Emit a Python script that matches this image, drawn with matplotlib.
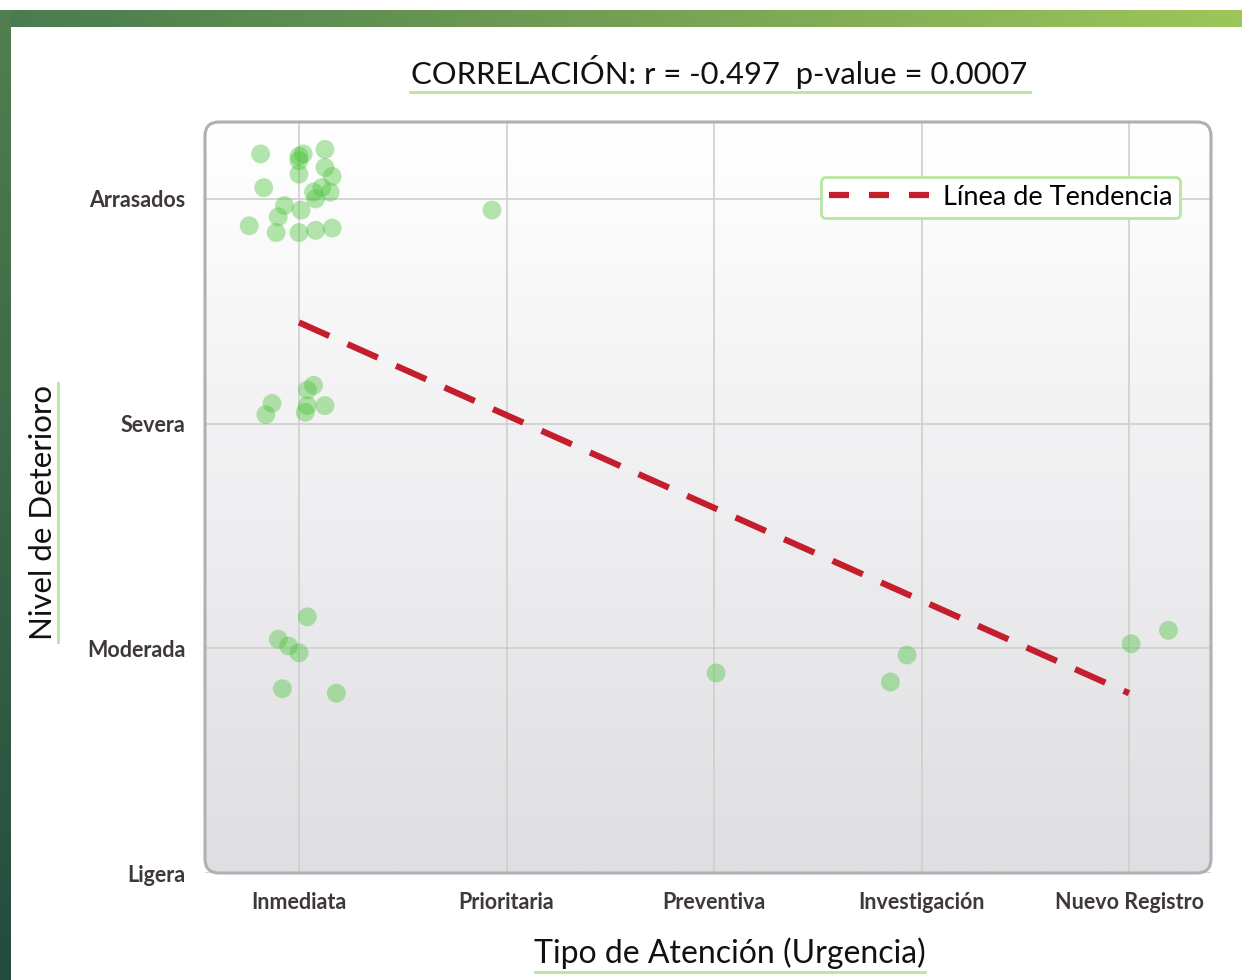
import numpy as np
import matplotlib
matplotlib.use("Agg")
import matplotlib.pyplot as plt
from matplotlib.patches import FancyBboxPatch
from matplotlib.lines import Line2D

# --- data ---
x_categories = ["Inmediata", "Prioritaria", "Preventiva", "Investigación", "Nuevo Registro"]
y_levels = ["Ligera", "Moderada", "Severa", "Arrasados"]

# jittered points: x (1..5 = category), y (1..4 = level)
pts_x = [0.815, 1.00, 1.02, 1.00, 1.125, 1.00, 1.125, 1.16, 0.83, 1.07, 1.11,
         1.15, 1.08, 0.93, 0.90, 1.01, 0.76, 0.89, 1.00, 1.08, 1.16,
         1.93,
         0.87, 0.84, 1.07, 1.04, 1.04, 1.03, 1.125,
         1.04, 0.90, 0.95, 1.00, 0.92, 1.18,
         3.01,
         3.93, 3.85,
         5.01, 5.19]
pts_y = [4.20, 4.19, 4.20, 4.17, 4.22, 4.11, 4.14, 4.10, 4.05, 4.03, 4.05,
         4.03, 4.00, 3.97, 3.92, 3.95, 3.88, 3.85, 3.85, 3.86, 3.87,
         3.95,
         3.09, 3.04, 3.17, 3.15, 3.08, 3.05, 3.08,
         2.14, 2.04, 2.01, 1.98, 1.82, 1.80,
         1.89,
         1.97, 1.85,
         2.02, 2.08]

trend_x = [1.0, 5.0]
trend_y = [3.45, 1.80]

title = "CORRELACIÓN: r = -0.497  p-value = 0.0007"

W, H = 1242, 980
fig = plt.figure(figsize=(W / 100, H / 100), dpi=100)
fig.patch.set_facecolor("white")

def fx(px):
    return px / W

def fy(py):
    return 1 - py / H

# top gradient bar
bar = fig.add_axes([0, fy(27), 1, 17 / H])
grad = np.linspace(0, 1, 256).reshape(1, -1)
cmap_bar = matplotlib.colors.LinearSegmentedColormap.from_list("bar", ["#4a7a4f", "#9dc65a"])
bar.imshow(grad, aspect="auto", cmap=cmap_bar, extent=[0, 1, 0, 1])
bar.axis("off")

# left gradient strip
strip = fig.add_axes([0, 0, 11 / W, fy(10)])
cmap_strip = matplotlib.colors.LinearSegmentedColormap.from_list("strip", ["#234c3f", "#537e4f"])
strip.imshow(np.linspace(0, 1, 256).reshape(-1, 1), aspect="auto", cmap=cmap_strip,
             origin="lower", extent=[0, 1, 0, 1])
strip.axis("off")

# main axes
ax = fig.add_axes([fx(205), fy(873), fx(1211) - fx(205), fy(122) - fy(873)])
ax.set_xlim(0.547, 5.395)
ax.set_ylim(1.0, 4.342)

frame = FancyBboxPatch((0, 0), 1, 1, boxstyle="round,pad=0,rounding_size=0.014",
                       mutation_aspect=1006 / 751, transform=ax.transAxes,
                       facecolor="none", edgecolor="#b0b0b0", lw=2.2, zorder=5,
                       clip_on=False)
ax.add_patch(frame)

# softly banded vertical background gradient (white top -> light grey bottom)
t = np.linspace(0, 1, 600)
bg = (0.75 * t + 0.25 * np.floor(t * 13) / 12).reshape(-1, 1)
cmap_bg = matplotlib.colors.LinearSegmentedColormap.from_list("bg", ["#ffffff", "#dfdfe3"])
im = ax.imshow(bg, aspect="auto", cmap=cmap_bg, extent=[0, 1, 0, 1], origin="upper",
               transform=ax.transAxes, zorder=0, vmin=0, vmax=1)
im.set_clip_path(frame)

for s in ax.spines.values():
    s.set_visible(False)

ax.set_xticks(range(1, len(x_categories) + 1))
ax.set_xticklabels(x_categories)
ax.set_yticks(range(1, len(y_levels) + 1))
ax.set_yticklabels(y_levels)
ax.tick_params(length=0, pad=14, labelcolor="#3f3838")
for lab in ax.get_xticklabels() + ax.get_yticklabels():
    lab.set_fontfamily("Lato")
    lab.set_fontweight("bold")
    lab.set_fontsize(15.5)
ax.grid(True, color="#cfcfcf", lw=1.2, zorder=1)
ax.set_axisbelow(True)

ax.scatter(pts_x, pts_y, s=185, color="#4cc43c", alpha=0.42, edgecolors="none", zorder=3)

ax.plot(trend_x, trend_y, color="#c41e2d", lw=4.5, dashes=(5.3, 3.2), zorder=4)

handle = Line2D([], [], color="#c41e2d", lw=4.5, dashes=(3.2, 3.2))
leg = ax.legend([handle], ["Línea de Tendencia"], loc="upper left",
                bbox_to_anchor=(0.612, 0.927), borderaxespad=0,
                prop={"family": "Lato", "size": 19.5}, frameon=True, fancybox=True,
                handlelength=3.7, handletextpad=0.5, borderpad=0.3)
leg.get_frame().set_edgecolor("#b8e6a2")
leg.get_frame().set_linewidth(2)
leg.get_frame().set_alpha(1)

# title, axis labels and underlines
fig.text(fx(719), fy(72), title, ha="center", va="center", fontsize=22.3,
         family="Lato", color="#111111")
fig.add_artist(Line2D([fx(410), fx(1030)], [fy(92), fy(92)], color="#b8e6a2", lw=2))

fig.text(fx(730), fy(953), "Tipo de Atención (Urgencia)", ha="center", va="center",
         fontsize=23, family="Lato", color="#111111")
fig.add_artist(Line2D([fx(535), fx(925)], [fy(972), fy(972)], color="#b8e6a2", lw=2))

fig.text(fx(43), fy(512), "Nivel de Deterioro", ha="center", va="center", rotation=90,
         fontsize=22.5, family="Lato", color="#111111")
fig.add_artist(Line2D([fx(58), fx(58)], [fy(383), fy(642)], color="#b8e6a2", lw=2))

fig.savefig("out.png", dpi=100)
